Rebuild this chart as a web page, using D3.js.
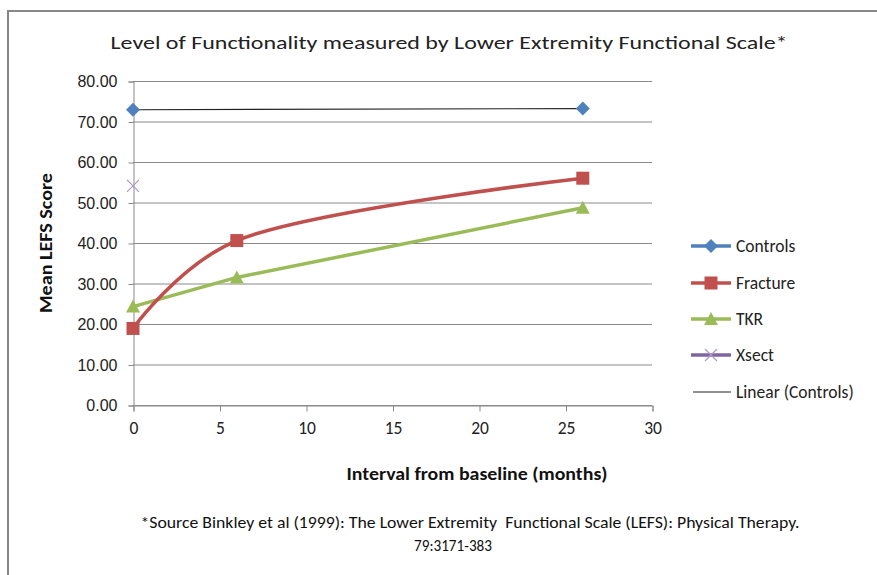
<!DOCTYPE html>
<html><head><meta charset="utf-8">
<script src="https://cdn.jsdelivr.net/npm/d3@7"></script>
<style>
html,body{margin:0;padding:0;background:#fff;}
svg{display:block;}
</style></head>
<body>
<svg id="chart" width="877" height="575"></svg>
<script>
// ---- data ----
const xTicks = [0, 5, 10, 15, 20, 25, 30];
const yTicks = [0, 10, 20, 30, 40, 50, 60, 70, 80];
const controlsX = [0, 26];
const controlsY = [72.9, 73.2];
const fractureX = [0, 6, 26];
const fractureY = [18.9, 40.6, 56.0];
const tkrX = [0, 6, 26];
const tkrY = [24.3, 31.5, 48.7];
const xsectX = [0];
const xsectY = [54.1];
const legendNames = ["Controls", "Fracture", "TKR", "Xsect", "Linear (Controls)"];
const colors = {Controls: "#4F81BD", Fracture: "#C0504D", TKR: "#9BBB59", Xsect: "#8064A2"};

const svg = d3.select("#chart");
const FONT = "Carlito, Calibri, Lato, 'Open Sans', sans-serif";

// outer border
svg.append("path").attr("d", "M8,600 L8,11 L900,11").attr("fill", "none")
  .attr("stroke", "#878787").attr("stroke-width", 2);

const x = d3.scaleLinear().domain([0, 30]).range([133, 652]);
const y = d3.scaleLinear().domain([0, 80]).range([405, 81]);

// gridlines
svg.append("g").selectAll("line").data(yTicks).join("line")
  .attr("x1", x(0)).attr("x2", x(30))
  .attr("y1", d => y(d) + 0.5).attr("y2", d => y(d) + 0.5)
  .attr("stroke", "#8a8a8a").attr("stroke-width", 1);

// y axis
const yAxis = svg.append("g").attr("transform", `translate(${x(0) + 0.5},0.5)`)
  .call(d3.axisLeft(y).tickValues(yTicks).tickFormat(d3.format(".2f")).tickSizeOuter(0).tickSize(5).tickPadding(11));
yAxis.select(".domain").attr("stroke", "#8a8a8a");
yAxis.selectAll(".tick line").attr("stroke", "#8a8a8a");
yAxis.selectAll("text").attr("font-family", "'Liberation Sans', Arial, sans-serif").attr("font-size", 16).attr("fill", "#222");

// x axis
const xAxis = svg.append("g").attr("transform", `translate(0.5,${y(0) + 0.5})`)
  .call(d3.axisBottom(x).tickValues(xTicks).tickFormat(d3.format("d")).tickSizeOuter(0).tickSize(6).tickPadding(10));
xAxis.select(".domain").attr("stroke", "#8a8a8a");
xAxis.selectAll(".tick line").attr("stroke", "#8a8a8a");
xAxis.selectAll("text").attr("font-family", FONT).attr("font-size", 17.5).attr("fill", "#222");

// trendline for controls (least squares)
const reg = (() => {
  const n = controlsX.length, mx = d3.mean(controlsX), my = d3.mean(controlsY);
  let sxy = 0, sxx = 0;
  for (let i = 0; i < n; i++) { sxy += (controlsX[i]-mx)*(controlsY[i]-my); sxx += (controlsX[i]-mx)**2; }
  const b = sxy / sxx; return {a: my - b*mx, b};
})();
svg.append("line").attr("x1", x(0)).attr("x2", x(26))
  .attr("y1", y(reg.a)).attr("y2", y(reg.a + reg.b*26))
  .attr("stroke", "#222").attr("stroke-width", 1.2);

// series lines
const lineStraight = d3.line().x(d => x(d[0])).y(d => y(d[1]));
const lineSmooth = d3.line().x(d => x(d[0])).y(d => y(d[1])).curve(d3.curveCatmullRom.alpha(0.3));
const tkrPts = tkrX.map((v, i) => [v, tkrY[i]]);
const frPts = fractureX.map((v, i) => [v, fractureY[i]]);
svg.append("path").attr("d", lineStraight(tkrPts)).attr("fill", "none")
  .attr("stroke", colors.TKR).attr("stroke-width", 3.5).attr("stroke-linejoin", "round");
svg.append("path").attr("d", lineSmooth(frPts)).attr("fill", "none")
  .attr("stroke", colors.Fracture).attr("stroke-width", 3.5).attr("stroke-linejoin", "round");

// markers
function marker(g, type, cx, cy) {
  if (type === "Controls") {
    g.append("path").attr("d", `M${cx},${cy-7} L${cx+7},${cy} L${cx},${cy+7} L${cx-7},${cy} Z`).attr("fill", colors.Controls);
  } else if (type === "Fracture") {
    g.append("rect").attr("x", cx-6.5).attr("y", cy-6.5).attr("width", 13).attr("height", 13).attr("fill", colors.Fracture);
  } else if (type === "TKR") {
    g.append("path").attr("d", `M${cx},${cy-7} L${cx+7},${cy+6} L${cx-7},${cy+6} Z`).attr("fill", colors.TKR);
  } else if (type === "Xsect") {
    g.append("path").attr("d", `M${cx-6},${cy-6} L${cx+6},${cy+6} M${cx+6},${cy-6} L${cx-6},${cy+6}`)
      .attr("stroke", "#A898C4").attr("stroke-width", 1.2).attr("fill", "none");
  }
}
const mg = svg.append("g");
controlsX.forEach((v, i) => marker(mg, "Controls", x(v), y(controlsY[i])));
fractureX.forEach((v, i) => marker(mg, "Fracture", x(v), y(fractureY[i])));
tkrX.forEach((v, i) => marker(mg, "TKR", x(v), y(tkrY[i])));
xsectX.forEach((v, i) => marker(mg, "Xsect", x(v), y(xsectY[i])));

// legend
const legY = [246, 283, 319, 355, 392];
const lg = svg.append("g");
legendNames.forEach((name, i) => {
  const yy = legY[i];
  if (i < 4) {
    lg.append("line").attr("x1", 691).attr("x2", 731).attr("y1", yy).attr("y2", yy)
      .attr("stroke", colors[name]).attr("stroke-width", 3.5);
    marker(lg, name, 711, yy);
  } else {
    lg.append("line").attr("x1", 693).attr("x2", 731).attr("y1", yy).attr("y2", yy)
      .attr("stroke", "#222").attr("stroke-width", 1.2);
  }
  lg.append("text").attr("x", 736).attr("y", yy).attr("dy", "0.35em")
    .attr("font-family", FONT).attr("font-size", 17.5).attr("fill", "#222").text(name);
});

// title
svg.append("text").attr("x", 449).attr("y", 42).attr("dy", "0.35em").attr("text-anchor", "middle")
  .attr("font-family", FONT).attr("font-size", 19).attr("fill", "#222")
  .attr("textLength", 677).attr("lengthAdjust", "spacingAndGlyphs")
  .text("Level of Functionality measured by Lower Extremity Functional Scale*");

// axis titles
svg.append("text").attr("x", 477).attr("y", 474).attr("dy", "0.35em").attr("text-anchor", "middle")
  .attr("font-family", FONT).attr("font-size", 17).attr("font-weight", "bold").attr("fill", "#111")
  .attr("textLength", 261).attr("lengthAdjust", "spacingAndGlyphs")
  .text("Interval from baseline (months)");
svg.append("text").attr("transform", "translate(46,243) rotate(-90)").attr("dy", "0.35em").attr("text-anchor", "middle")
  .attr("font-family", FONT).attr("font-size", 17).attr("font-weight", "bold").attr("fill", "#111")
  .attr("textLength", 140).attr("lengthAdjust", "spacingAndGlyphs")
  .text("Mean LEFS Score");

// footnote
svg.append("text").attr("x", 470).attr("y", 522).attr("dy", "0.35em").attr("text-anchor", "middle")
  .attr("font-family", FONT).attr("font-size", 16).attr("fill", "#111")
  .style("white-space", "pre")
  .attr("textLength", 659).attr("lengthAdjust", "spacingAndGlyphs")
  .text("*Source Binkley et al (1999): The Lower Extremity  Functional Scale (LEFS): Physical Therapy.");
svg.append("text").attr("x", 453).attr("y", 545).attr("dy", "0.35em").attr("text-anchor", "middle")
  .attr("font-family", FONT).attr("font-size", 16).attr("fill", "#111")
  .attr("textLength", 78).attr("lengthAdjust", "spacingAndGlyphs")
  .text("79:3171-383");
</script>
</body></html>
